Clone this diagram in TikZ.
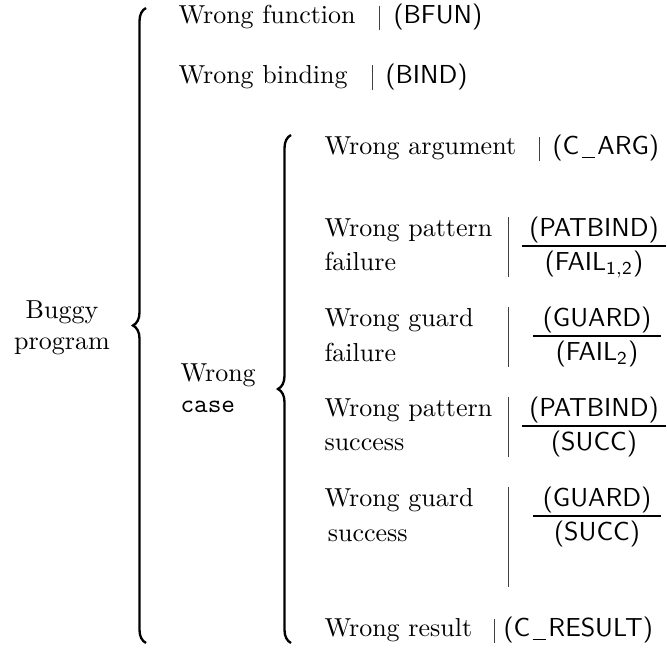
\documentclass[tikz,border=0pt]{standalone}
\usetikzlibrary{decorations.pathreplacing}
\newcommand{\uscore}{\kern.1em\rule[-1pt]{.5em}{.4pt}\kern.1em}
\begin{document}
\begin{tikzpicture}[x=0.3846pt,y=-0.3846pt,
		txt/.style={inner sep=0pt,anchor=base west},
		cell/.style={inner sep=0pt,anchor=west,align=left},
		code/.style={inner sep=0pt,anchor=base west,font=\sffamily},
		frac/.style={inner sep=0pt,anchor=base,font=\sffamily},
		sep/.style={line width=0.35pt,black!75},
		rule/.style={line width=0.4pt},
		curly/.style={decorate,decoration={brace,amplitude=5pt},line width=0.9pt}]
		\useasboundingbox (0,0) rectangle (667,653);
		\node [align=center,inner sep=0pt] (buggy) at (62,328) {Buggy\\program};
		\draw [curly] (146,643)-- (146,8);
		\node [txt] (fun) at (178,24) {Wrong function};
		\draw [sep] (379,6)-- (379,30);
		\node [code] (bfun) at (393,24) {(BFUN)};
		\node [txt] (bind) at (178,84) {Wrong binding};
		\draw [sep] (372,65)-- (372,90);
		\node [code] (bbind) at (385,84) {(BIND)};
		\node [cell] (case) at (180,388) {Wrong\\\texttt{case}};
		\draw [curly] (291,643)-- (291,135);
		\node [txt] (arg) at (324,155) {Wrong argument};
		\draw [sep] (539,137)-- (539,161);
		\node [code] (carg) at (552,155) {(C\uscore ARG)};
		\node [cell] (patf) at (324,245) {Wrong pattern\\[1.2pt]failure};
		\draw [sep] (508,217)-- (508,277);
		\node [frac] (patfnum) at (594,237) {(PATBIND)};
		\node [frac] (patfden) at (594,271) {(FAIL$_{\mathsf{1,2}}$)};
		\draw [rule] (522,246)-- (666,246);
		\node [cell] (guaf) at (324,335) {Wrong guard\\[1.2pt]failure};
		\draw [sep] (508,307)-- (508,367);
		\node [frac] (guafnum) at (597,327) {(GUARD)};
		\node [frac] (guafden) at (597,361) {(FAIL$_{\mathsf{2}}$)};
		\draw [rule] (533,336)-- (661,336);
		\node [cell] (pats) at (324,425) {Wrong pattern\\[1.2pt]success};
		\draw [sep] (508,397)-- (508,457);
		\node [frac] (patsnum) at (594,417) {(PATBIND)};
		\node [frac] (patsden) at (594,451) {(SUCC)};
		\draw [rule] (522,426)-- (666,426);
		\node [cell] (guas) at (324,515) {Wrong guard\\[1.2pt]\hspace{1.3pt}success};
		\draw [sep] (508,487)-- (508,587);
		\node [frac] (guasnum) at (597,507) {(GUARD)};
		\node [frac] (guasden) at (597,541) {(SUCC)};
		\draw [rule] (533,516)-- (661,516);
		\node [txt] (res) at (324,637) {Wrong result};
		\draw [sep] (494,619)-- (494,643);
		\node [code] (cres) at (503,637) {(C\uscore RESULT)};
\end{tikzpicture}
\end{document}
